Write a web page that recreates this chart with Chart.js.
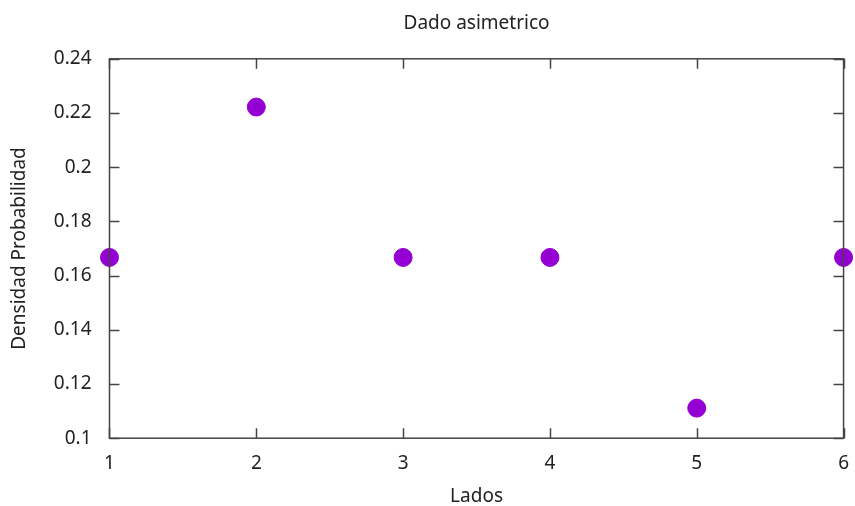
<!DOCTYPE html>
<html lang="es">
<head>
    <meta charset="UTF-8">
    <title>Dado asimetrico</title>
    <script src="https://cdn.jsdelivr.net/npm/chart.js@4.4.0/dist/chart.umd.min.js"></script>
    <style>
        html, body { margin: 0; padding: 0; background: #fff; }
        #wrap { width: 855px; height: 506px; }
    </style>
</head>
<body>
    <div id="wrap"><canvas id="myChart"></canvas></div>
    <script>
        // datos del dado
        const lados = [1, 2, 3, 4, 5, 6];
        const densidad = [0.1667, 0.2222, 0.1667, 0.1667, 0.1111, 0.1667];
        const xTicks = [1, 2, 3, 4, 5, 6];
        const yTicks = [0.1, 0.12, 0.14, 0.16, 0.18, 0.2, 0.22, 0.24];

        const font = "'Noto Sans', 'Open Sans', sans-serif";
        const fsize = 19;

        // borde y marcas hacia adentro (estilo gnuplot, con espejo)
        const gnuplotFrame = {
            id: 'gnuplotFrame',
            afterDraw(chart) {
                const { ctx, chartArea: a, scales } = chart;
                const len = 10;
                ctx.save();
                ctx.strokeStyle = '#444';
                ctx.lineWidth = 1.5;
                ctx.strokeRect(a.left, a.top, a.right - a.left, a.bottom - a.top);
                ctx.beginPath();
                scales.x.ticks.forEach(t => {
                    const px = Math.round(scales.x.getPixelForValue(t.value)) + 0.5;
                    ctx.moveTo(px, a.bottom); ctx.lineTo(px, a.bottom - len);
                    ctx.moveTo(px, a.top); ctx.lineTo(px, a.top + len);
                });
                scales.y.ticks.forEach(t => {
                    const py = Math.round(scales.y.getPixelForValue(t.value)) + 0.5;
                    ctx.moveTo(a.left, py); ctx.lineTo(a.left + len, py);
                    ctx.moveTo(a.right, py); ctx.lineTo(a.right - len, py);
                });
                ctx.stroke();
                ctx.restore();
            }
        };

        new Chart(document.getElementById('myChart'), {
            type: 'scatter',
            data: {
                datasets: [{
                    label: 'Dado',
                    data: lados.map((x, i) => ({ x: x, y: densidad[i] })),
                    backgroundColor: '#9400d3',
                    borderColor: '#9400d3',
                    pointRadius: 9,
                    pointHoverRadius: 9,
                    clip: false
                }]
            },
            options: {
                responsive: true,
                maintainAspectRatio: false,
                animation: false,
                layout: { padding: { left: 8, right: 1, top: 0, bottom: 0 } },
                plugins: {
                    legend: { display: false },
                    tooltip: { enabled: false },
                    title: {
                        display: true,
                        text: 'Dado asimetrico',
                        fullSize: false,
                        color: '#222',
                        font: { family: font, size: fsize, weight: 'normal' },
                        padding: { top: 12, bottom: 24 }
                    }
                },
                scales: {
                    x: {
                        type: 'linear',
                        min: 1,
                        max: 6,
                        afterBuildTicks: s => { s.ticks = xTicks.map(v => ({ value: v })); },
                        grid: { display: false },
                        border: { display: false },
                        ticks: {
                            color: '#222',
                            padding: 6,
                            font: { family: font, size: fsize },
                            callback: v => String(v)
                        },
                        title: {
                            display: true,
                            text: 'Lados',
                            color: '#222',
                            font: { family: font, size: fsize, lineHeight: 1.0 },
                            padding: { top: 6, bottom: 0 }
                        }
                    },
                    y: {
                        min: 0.1,
                        max: 0.24,
                        afterBuildTicks: s => { s.ticks = yTicks.map(v => ({ value: v })); },
                        grid: { display: false },
                        border: { display: false },
                        ticks: {
                            color: '#222',
                            padding: 10,
                            font: { family: font, size: fsize },
                            callback: v => String(+v.toFixed(2))
                        },
                        title: {
                            display: true,
                            text: 'Densidad Probabilidad',
                            color: '#222',
                            font: { family: font, size: fsize },
                            padding: { top: 0, bottom: 13 }
                        }
                    }
                }
            },
            plugins: [gnuplotFrame]
        });
    </script>
</body>
</html>
